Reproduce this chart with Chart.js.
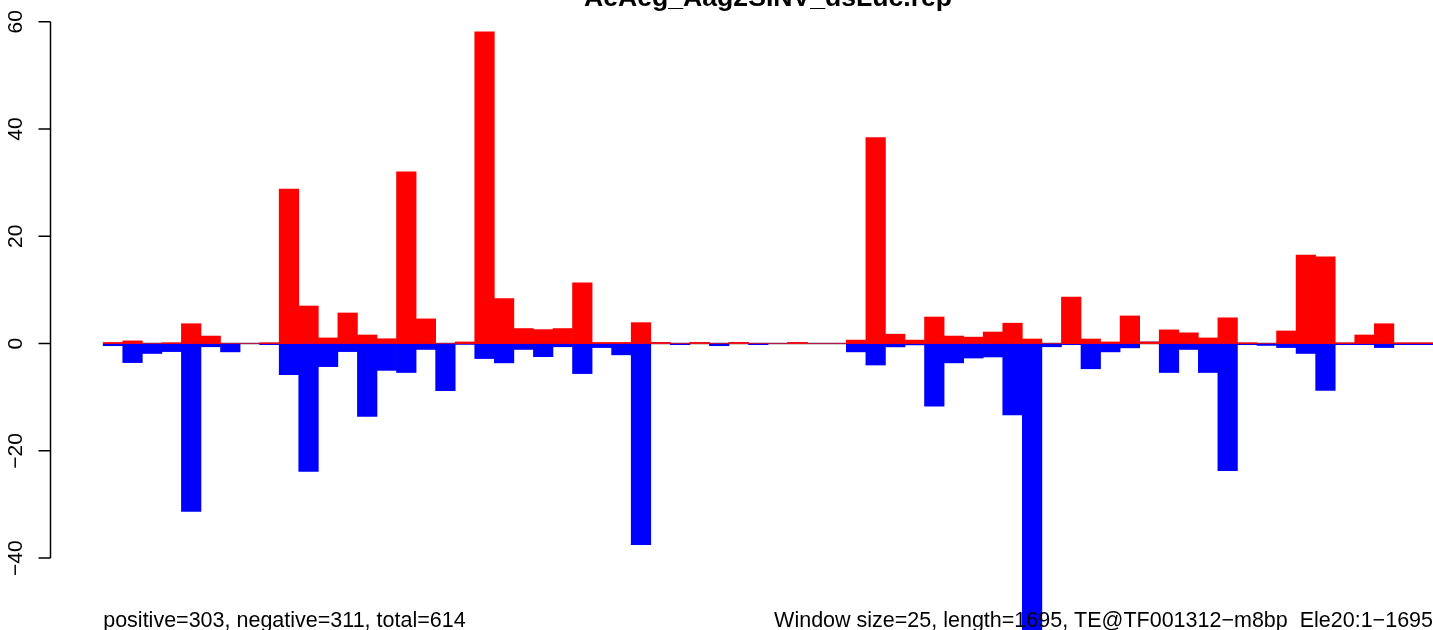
<!DOCTYPE html>
<html>
<head>
<meta charset="utf-8">
<script src="https://cdn.jsdelivr.net/npm/chart.js@4/dist/chart.umd.min.js"></script>
<style>
  html, body { margin: 0; padding: 0; background: #ffffff; overflow: hidden; }
  #wrap { width: 1433px; height: 630px; position: relative; }
</style>
</head>
<body>
<div id="wrap"><canvas id="c" width="1433" height="630"></canvas></div>
<script>
// ---- data ----
const titleText = "AeAeg_Aag2SINV_dsLuc.rep";
const leftNote = "positive=303, negative=311, total=614";
const rightNote = "Window size=25, length=1695, TE@TF001312\u2212m8bp  Ele20:1\u22121695";

// window number (1..68) for each 25-bp window
const windows = [1,2,3,4,5,6,7,8,9,10,11,12,13,14,15,16,17,18,19,20,
                 21,22,23,24,25,26,27,28,29,30,31,32,33,34,35,36,37,38,39,40,
                 41,42,43,44,45,46,47,48,49,50,51,52,53,54,55,56,57,58,59,60,
                 61,62,63,64,65,66,67,68];

const positive = [0.2,0.5,0,0.15,3.7,1.4,0,0,0.15,28.8,
                  7.0,1.05,5.7,1.6,0.9,32.0,4.6,0,0.3,58.1,
                  8.4,2.8,2.6,2.8,11.3,0.2,0.2,3.9,0.2,0,
                  0.2,0,0.2,0,0,0.2,0,0,0.65,38.4,
                  1.75,0.65,4.95,1.4,1.2,2.15,3.8,0.85,0,8.65,
                  0.85,0.3,5.15,0.3,2.55,2.0,1.05,4.8,0.15,0,
                  2.35,16.5,16.15,0.15,1.6,3.7,0.15,0.15];

const negative = [-0.4,-3.55,-1.85,-1.5,-31.3,-0.6,-1.55,0,-0.2,-5.8,
                  -23.85,-4.3,-1.5,-13.6,-5.0,-5.4,-1.1,-8.8,-0.15,-2.8,
                  -3.6,-1.1,-2.45,-0.6,-5.6,-0.75,-2.1,-37.5,0,-0.2,
                  0,-0.4,0,-0.2,0,0,0,0,-1.55,-4.0,
                  -0.62,-0.25,-11.65,-3.6,-2.7,-2.5,-13.3,-58,-0.6,-0.2,
                  -4.7,-1.55,-0.8,0,-5.4,-1.1,-5.4,-23.7,-0.2,-0.35,
                  -0.75,-1.85,-8.75,-0.2,-0.2,-0.75,-0.2,-0.2];

const yTicks = [-40, -20, 0, 20, 40, 60];

// ---- styling ----
const FONT = "'Liberation Sans', Arial, Helvetica, sans-serif";

const rAxisPlugin = {
  id: 'rAxis',
  beforeDatasetsDraw(chart) {
    const ctx = chart.ctx, y = chart.scales.y, a = chart.chartArea;
    const y0 = y.getPixelForValue(0);
    ctx.save();
    ctx.strokeStyle = '#a0a0a0';
    ctx.lineWidth = 2;
    ctx.beginPath();
    ctx.moveTo(chart.scales.x.getPixelForValue(0), y0);
    ctx.lineTo(a.right, y0);
    ctx.stroke();
    ctx.restore();
  },
  afterDraw(chart) {
    const ctx = chart.ctx, y = chart.scales.y, x = chart.scales.x, a = chart.chartArea;
    ctx.save();
    // y axis line + ticks (R style)
    const axX = a.left + 0.5;
    ctx.strokeStyle = '#000';
    ctx.lineWidth = 1.5;
    ctx.beginPath();
    ctx.moveTo(axX, y.getPixelForValue(yTicks[0]));
    ctx.lineTo(axX, y.getPixelForValue(yTicks[yTicks.length - 1]));
    yTicks.forEach(t => {
      const py = y.getPixelForValue(t);
      ctx.moveTo(axX, py);
      ctx.lineTo(axX - 12, py);
    });
    ctx.stroke();
    // rotated tick labels
    ctx.fillStyle = '#000';
    ctx.font = "21px " + FONT;
    ctx.textAlign = 'center';
    ctx.textBaseline = 'alphabetic';
    yTicks.forEach(t => {
      const py = y.getPixelForValue(t);
      ctx.save();
      ctx.translate(a.left - 28, py);
      ctx.rotate(-Math.PI / 2);
      ctx.fillText(String(t).replace('-', '\u2212'), 0, 0);
      ctx.restore();
    });
    // title, centred on the full R plot region
    ctx.font = "bold 26.6px " + FONT;
    ctx.textAlign = 'center';
    ctx.fillText(titleText, x.getPixelForValue(34), 6);
    // bottom notes
    ctx.font = "21.5px " + FONT;
    ctx.textAlign = 'left';
    ctx.fillText(leftNote, x.getPixelForValue(0), 627);
    ctx.textAlign = 'right';
    ctx.fillText(rightNote, x.getPixelForValue(68), 627);
    ctx.restore();
  }
};

const toPts = arr => arr.map((v, i) => ({ x: windows[i] - 0.5, y: v }));

new Chart(document.getElementById('c'), {
  type: 'bar',
  data: {
    datasets: [
      { label: 'positive', data: toPts(positive), backgroundColor: '#ff0000', borderWidth: 0 },
      { label: 'negative', data: toPts(negative), backgroundColor: '#0000ff', borderWidth: 0 }
    ]
  },
  options: {
    responsive: false,
    animation: false,
    devicePixelRatio: 1,
    layout: { padding: { left: 50, right: 0, top: 0, bottom: 0 } },
    datasets: { bar: { barPercentage: 1, categoryPercentage: 1 } },
    scales: {
      x: { type: 'linear', display: false, stacked: true, offset: false, min: -2.72, max: 68 },
      y: { type: 'linear', display: false, stacked: true, min: -53.4, max: 64.05 }
    },
    plugins: { legend: { display: false }, tooltip: { enabled: false }, title: { display: false } }
  },
  plugins: [rAxisPlugin]
});
</script>
</body>
</html>
